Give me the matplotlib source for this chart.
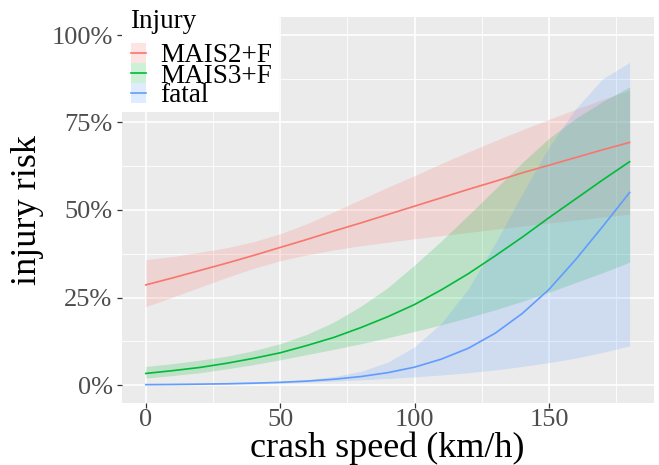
import matplotlib
matplotlib.use("Agg")
import matplotlib.pyplot as plt
from matplotlib.patches import Rectangle

plt.rcParams["font.family"] = ["Liberation Serif", "DejaVu Serif"]

# crash speed grid (km/h) and risk (%)
speed = [0, 10, 20, 30, 40, 50, 60, 70, 80, 90, 100, 110, 120, 130, 140, 150, 160, 170, 180]

mais2 = [28.6, 30.6, 32.7, 34.8, 37.0, 39.3, 41.6, 44.0, 46.3, 48.7, 51.1, 53.5, 55.9, 58.2, 60.6, 62.8, 65.0, 67.2, 69.3]
mais2_hi = [35.8, 36.7, 37.9, 39.2, 40.9, 43.2, 46.1, 49.5, 53.0, 56.5, 59.8, 63.3, 66.6, 69.8, 72.9, 75.9, 78.8, 81.6, 84.2]
mais2_lo = [22.4, 25.1, 27.9, 30.7, 33.3, 35.5, 37.2, 38.6, 39.8, 40.8, 41.8, 42.7, 43.6, 44.5, 45.4, 46.3, 47.1, 48.0, 48.8]

mais3 = [3.3, 4.1, 5.0, 6.2, 7.6, 9.2, 11.3, 13.6, 16.4, 19.5, 23.0, 27.2, 31.8, 36.9, 42.2, 47.8, 53.2, 58.6, 63.8]
mais3_hi = [5.3, 6.1, 7.1, 8.2, 9.8, 11.8, 14.5, 18.0, 22.5, 27.8, 34.3, 41.2, 48.5, 56.0, 63.5, 70.5, 76.2, 81.0, 85.2]
mais3_lo = [2.0, 2.7, 3.5, 4.6, 5.8, 7.2, 8.7, 10.2, 11.8, 13.5, 15.3, 17.2, 19.3, 21.5, 23.9, 26.5, 29.3, 32.1, 35.1]

fatal = [0.1, 0.16, 0.24, 0.35, 0.52, 0.76, 1.12, 1.65, 2.41, 3.52, 5.1, 7.4, 10.5, 14.8, 20.4, 27.3, 35.9, 45.3, 55.0]
fatal_hi = [0.35, 0.43, 0.54, 0.67, 0.85, 1.1, 1.55, 2.4, 3.9, 6.5, 10.9, 17.7, 27.5, 40.5, 54.5, 68.0, 79.0, 87.5, 92.2]
fatal_lo = [0.03, 0.06, 0.1, 0.18, 0.31, 0.52, 0.81, 1.13, 1.48, 1.87, 2.32, 2.87, 3.52, 4.3, 5.3, 6.4, 7.7, 9.3, 11.2]

labels = ["MAIS2+F", "MAIS3+F", "fatal"]
colors = ["#F8766D", "#00BA38", "#619CFF"]
x_ticks = [0, 50, 100, 150]
y_ticks = [0, 25, 50, 75, 100]
y_ticklabels = ["0%", "25%", "50%", "75%", "100%"]

W, H = 659, 465
fig = plt.figure(figsize=(W / 100, H / 100), dpi=100)
ax = fig.add_axes([121.6 / W, 1 - 402.5 / H, 532.2 / W, 385 / H])
ax.set_facecolor("#EBEBEB")
for s in ax.spines.values():
    s.set_visible(False)

series = [(mais2, mais2_lo, mais2_hi), (mais3, mais3_lo, mais3_hi), (fatal, fatal_lo, fatal_hi)]
for (mid, lo, hi), c in zip(series, colors):
    ax.fill_between(speed, lo, hi, color=c, alpha=0.2, lw=0, zorder=2)
for (mid, lo, hi), c in zip(series, colors):
    ax.plot(speed, mid, color=c, lw=1.2, zorder=3)

ax.set_xlim(-9, 189)
ax.set_ylim(-5, 105)
ax.set_xticks(x_ticks)
ax.set_xticks([25, 75, 125, 175], minor=True)
ax.set_yticks(y_ticks)
ax.set_yticklabels(y_ticklabels)
ax.set_yticks([12.5, 37.5, 62.5, 87.5], minor=True)
ax.grid(which="major", color="white", lw=1.2, zorder=1)
ax.grid(which="minor", color="white", lw=0.6, zorder=1)
ax.set_axisbelow(True)
ax.tick_params(which="major", length=3.5, width=0.9, color="#333333",
               labelsize=19, labelcolor="#4D4D4D", pad=1.5)
ax.tick_params(axis="y", which="major", pad=3)
ax.tick_params(which="minor", length=0)

ax.set_xlabel("crash speed (km/h)", fontsize=26, labelpad=0)
ax.set_ylabel("injury risk", fontsize=26, labelpad=5)

# legend drawn by hand in pixel positions (top-left, overlapping the panel top)
def fx(px): return px / W
def fy(py): return 1 - py / H

fig.add_artist(Rectangle((fx(121.6), fy(112)), fx(279) - fx(121.6), fy(0) - fy(112),
                         transform=fig.transFigure, facecolor="white", edgecolor="none", zorder=5))
fig.text(fx(130), fy(28), "Injury", fontsize=19.5, ha="left", va="baseline", zorder=6)
for i, (lab, c) in enumerate(zip(labels, colors)):
    top = 43 + 20 * i
    fig.add_artist(Rectangle((fx(131), fy(top + 20)), fx(146) - fx(131), fy(top) - fy(top + 20),
                             transform=fig.transFigure, facecolor=c, alpha=0.2,
                             edgecolor="none", zorder=6))
    fig.add_artist(plt.Line2D([fx(131), fx(146)], [fy(top + 10)] * 2, transform=fig.transFigure,
                              color=c, lw=1.2, zorder=7))
    fig.text(fx(160.5), fy(top + 19.5), lab, fontsize=19.5, ha="left", va="baseline", zorder=7)

fig.savefig("out.png", dpi=100)
